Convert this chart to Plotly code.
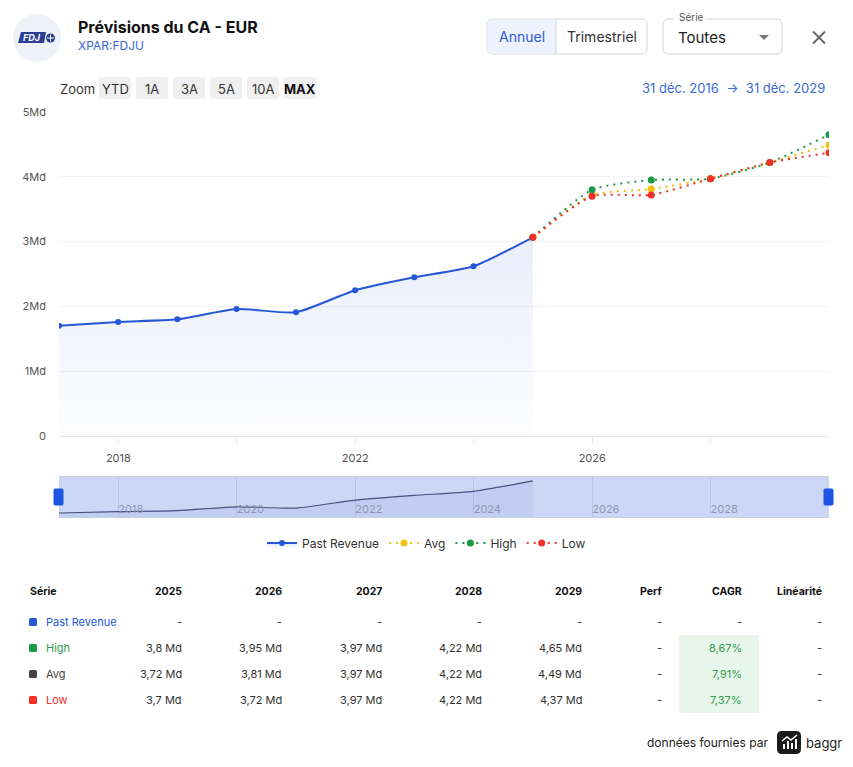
import plotly.graph_objects as go

W, H = 853, 767

# ---------------- data ----------------
past_dates = ["2016-12-31", "2017-12-31", "2018-12-31", "2019-12-31", "2020-12-31",
              "2021-12-31", "2022-12-31", "2023-12-31", "2024-12-31"]
past_revenue = [1.70, 1.76, 1.80, 1.96, 1.91, 2.25, 2.45, 2.62, 3.066]  # Md EUR

fc_dates = ["2024-12-31", "2025-12-31", "2026-12-31", "2027-12-31", "2028-12-31", "2029-12-31"]
table_years = ["2025", "2026", "2027", "2028", "2029"]
high_fc = [3.80, 3.95, 3.97, 4.22, 4.65]
avg_fc = [3.72, 3.81, 3.97, 4.22, 4.49]
low_fc = [3.70, 3.72, 3.97, 4.22, 4.37]
cagr_high, cagr_avg, cagr_low = 8.67, 7.91, 7.37

y_tick_vals = [0, 1, 2, 3, 4, 5]
y_tick_text = ["0", "1Md", "2Md", "3Md", "4Md", "5Md"]
x_tick_vals = ["2018-01-01", "2020-01-01", "2022-01-01", "2024-01-01", "2026-01-01", "2028-01-01"]
x_tick_text = ["2018", "", "2022", "", "2026", ""]
nav_tick_text = ["2018", "2020", "2022", "2024", "2026", "2028"]

C_PAST = "#2457d6"
C_AVG = "#f5c10e"
C_HIGH = "#1a9a45"
C_LOW = "#f0322b"
FONT = "Inter"


def X(x):
    return x / W


def Y(y):
    return 1 - y / H


fig = go.Figure()

# ---------------- main chart ----------------
fig.add_trace(go.Scatter(
    x=past_dates, y=[v * 1e9 for v in past_revenue], name="Past Revenue",
    mode="lines+markers", line=dict(color=C_PAST, width=2, shape="spline", smoothing=0.6),
    marker=dict(size=6, color=C_PAST),
    fill="tozeroy",
    fillgradient=dict(type="vertical", start=0, stop=4e9,
                      colorscale=[[0, "rgba(36,87,214,0.01)"], [1, "rgba(36,87,214,0.13)"]]),
    hoverinfo="skip"))

last = past_revenue[-1]
for name, vals, col in [("Avg", avg_fc, C_AVG), ("High", high_fc, C_HIGH), ("Low", low_fc, C_LOW)]:
    fig.add_trace(go.Scatter(
        x=fc_dates, y=[v * 1e9 for v in [last] + vals], name=name,
        mode="lines+markers",
        line=dict(color=col, width=2, dash="2px,5px", shape="spline", smoothing=0.6),
        marker=dict(size=7, color=col), hoverinfo="skip"))

# ---------------- navigator ----------------
fig.add_trace(go.Scatter(
    x=past_dates, y=[v * 1e9 for v in past_revenue], xaxis="x2", yaxis="y2",
    mode="lines", line=dict(color="#46527e", width=1.2, shape="spline", smoothing=0.6),
    fill="tozeroy", fillcolor="rgba(51,92,200,0.07)", showlegend=False, hoverinfo="skip"))

fig.update_layout(
    width=W, height=H, autosize=False,
    margin=dict(l=0, r=0, t=0, b=0, pad=0),
    paper_bgcolor="white", plot_bgcolor="rgba(0,0,0,0)",
    font=dict(family=FONT, color="#333"),
    showlegend=True,
    legend=dict(orientation="h", x=0.5, xanchor="center", y=Y(543), yanchor="middle",
                font=dict(size=12, color="#333", family=FONT), itemwidth=30,
                bgcolor="rgba(0,0,0,0)"),
    xaxis=dict(domain=[X(59), X(829)], anchor="y", type="date", automargin=False,
               range=["2016-12-31", "2029-12-31"],
               tickvals=x_tick_vals, ticktext=x_tick_text,
               ticks="outside", ticklen=6, tickcolor="#dfe3ea", ticklabelstandoff=6,
               showline=True, linecolor="#dfe3ea", linewidth=1,
               showgrid=False, zeroline=False,
               tickfont=dict(size=11, color="#555", family=FONT)),
    yaxis=dict(domain=[Y(436), Y(112)], anchor="x", range=[0, 5e9], automargin=False,
               tickvals=[v * 1e9 for v in y_tick_vals], ticktext=y_tick_text,
               showgrid=True, gridcolor="#f2f2f4", zeroline=False, showline=False,
               ticks="", ticklabelstandoff=12,
               tickfont=dict(size=11, color="#555", family=FONT)),
    xaxis2=dict(domain=[X(59), X(829)], anchor="y2", type="date", automargin=False,
                range=["2016-12-31", "2029-12-31"],
                tickvals=x_tick_vals, ticktext=nav_tick_text,
                ticklabelposition="inside right", ticks="", ticklabelstandoff=-4,
                showgrid=True, gridcolor="#b8c4e8", gridwidth=1,
                showline=False, zeroline=False,
                tickfont=dict(size=11, color="#8e98b4", family=FONT)),
    yaxis2=dict(domain=[Y(517), Y(477)], anchor="x2", range=[1.53e9, 3.23e9],
                visible=False, showgrid=False, automargin=False),
)

shapes = []
annotations = []


def txt(x, y, s, size=12, color="#333", anchor="left", bold=False, bg=None, family=FONT):
    d = dict(x=X(x), y=Y(y), xref="paper", yref="paper", text=("<b>%s</b>" % s) if bold else s,
             showarrow=False, xanchor=anchor, yanchor="middle",
             font=dict(size=size, color=color, family=family), borderpad=0)
    if bg:
        d["bgcolor"] = bg
    annotations.append(d)


def rect(x0, y0, x1, y1, fill=None, line=None, lw=1, layer="above"):
    shapes.append(dict(type="rect", xref="paper", yref="paper",
                       x0=X(x0), x1=X(x1), y0=Y(y1), y1=Y(y0),
                       fillcolor=fill if fill else "rgba(0,0,0,0)",
                       line=dict(color=line if line else "rgba(0,0,0,0)", width=lw if line else 0),
                       layer=layer))


def rrect(x0, y0, x1, y1, r, fill=None, line=None, lw=1, layer="above"):
    p = (f"M {X(x0 + r)},{Y(y0)} L {X(x1 - r)},{Y(y0)} Q {X(x1)},{Y(y0)} {X(x1)},{Y(y0 + r)} "
         f"L {X(x1)},{Y(y1 - r)} Q {X(x1)},{Y(y1)} {X(x1 - r)},{Y(y1)} "
         f"L {X(x0 + r)},{Y(y1)} Q {X(x0)},{Y(y1)} {X(x0)},{Y(y1 - r)} "
         f"L {X(x0)},{Y(y0 + r)} Q {X(x0)},{Y(y0)} {X(x0 + r)},{Y(y0)} Z")
    shapes.append(dict(type="path", xref="paper", yref="paper", path=p,
                       fillcolor=fill if fill else "rgba(0,0,0,0)",
                       line=dict(color=line if line else "rgba(0,0,0,0)", width=lw if line else 0),
                       layer=layer))


def path(pts, fill=None, line=None, lw=1, close=True):
    p = "M " + " L ".join(f"{X(a)},{Y(b)}" for a, b in pts) + (" Z" if close else "")
    shapes.append(dict(type="path", xref="paper", yref="paper", path=p,
                       fillcolor=fill if fill else "rgba(0,0,0,0)",
                       line=dict(color=line if line else "rgba(0,0,0,0)", width=lw if line else 0)))


def seg(x0, y0, x1, y1, color, w=1):
    shapes.append(dict(type="line", xref="paper", yref="paper",
                       x0=X(x0), y0=Y(y0), x1=X(x1), y1=Y(y1),
                       line=dict(color=color, width=w)))


# ---------------- header ----------------
shapes.append(dict(type="circle", xref="paper", yref="paper",
                   x0=X(13), x1=X(61), y0=Y(62), y1=Y(14),
                   fillcolor="#eef1f7", line=dict(width=0)))
path([(21, 32), (46, 32), (44, 43), (18, 43)], fill="#2b3e96")
txt(31.5, 37.6, "<i>FDJ</i>", size=9, color="white", anchor="center", bold=True)
shapes.append(dict(type="circle", xref="paper", yref="paper",
                   x0=X(46), x1=X(55), y0=Y(42.5), y1=Y(33.5),
                   fillcolor="#2b3e96", line=dict(width=0)))
seg(50.5, 34.5, 50.5, 41.5, "white", 1)
seg(47, 38, 54, 38, "white", 1)

txt(77, 27, "Prévisions du CA - EUR", size=16, color="#111", bold=True)
txt(77, 46, "XPAR:FDJU", size=12, color="#3a66d4")

# Annuel / Trimestriel buttons
rrect(487, 19, 647, 54, 6, fill="white", line="#d3d7df")
p = (f"M {X(493)},{Y(19.5)} L {X(556)},{Y(19.5)} L {X(556)},{Y(53.5)} L {X(493)},{Y(53.5)} "
     f"Q {X(487.5)},{Y(53.5)} {X(487.5)},{Y(48)} L {X(487.5)},{Y(25)} Q {X(487.5)},{Y(19.5)} {X(493)},{Y(19.5)} Z")
shapes.append(dict(type="path", xref="paper", yref="paper", path=p,
                   fillcolor="#edf2fc", line=dict(width=0)))
seg(556, 19, 556, 54, "#d3d7df", 1)
txt(521.5, 36.5, "Annuel", size=14, color="#2d5bd3", anchor="center")
txt(601.5, 36.5, "Trimestriel", size=14, color="#333", anchor="center")

# Série select
rrect(663, 19, 782, 54, 6, fill="white", line="#cfd2d8")
rect(674, 14, 705, 23, fill="white")
txt(677.5, 17.5, "Série", size=10, color="#555")
txt(677, 37, "Toutes", size=15, color="#222")
path([(759, 35), (769, 35), (764, 40)], fill="#777")

# close X
seg(813, 31.5, 825, 43.5, "#666", 2)
seg(825, 31.5, 813, 43.5, "#666", 2)

# zoom row
txt(59, 88.5, "Zoom", size=13, color="#333")
zoom_btns = [("YTD", 99, 131), ("1A", 136, 168), ("3A", 173, 205),
             ("5A", 210, 242), ("10A", 247, 279), ("MAX", 284, 316)]
for lab, a, b in zoom_btns:
    rrect(a, 77, b, 99, 2, fill="#efefef")
    txt((a + b) / 2, 88.5, lab, size=13, color="#111" if lab == "MAX" else "#333",
        anchor="center", bold=(lab == "MAX"))

txt(826, 88, "31 déc. 2016  \u2192  31 déc. 2029", size=13, color="#3b6ad8", anchor="right")

# ---------------- navigator decorations ----------------
rect(59, 477, 829, 517, fill="#ccd7f6", layer="below")
seg(59, 476.5, 829, 476.5, "#c9cfdc", 1)
seg(59, 517.5, 829, 517.5, "#c9cfdc", 1)
rrect(54, 489, 63, 505, 1, fill="#1f55e0", line="#1f55e0")
rrect(824, 489, 833, 505, 1, fill="#1f55e0", line="#1f55e0")

# ---------------- table ----------------
col_right = [183, 283, 383, 483, 583]
perf_x, cagr_x, lin_x = 663, 743, 823
hy = 591
txt(29, hy, "Série", size=10.5, color="#111", bold=True)
for yr, xr in zip(table_years, col_right):
    txt(xr, hy, yr, size=10.5, color="#111", anchor="right", bold=True)
txt(perf_x, hy, "Perf", size=10.5, color="#111", anchor="right", bold=True)
txt(cagr_x, hy, "CAGR", size=10.5, color="#111", anchor="right", bold=True)
txt(lin_x, hy, "Linéarité", size=10.5, color="#111", anchor="right", bold=True)

rect(679, 635, 759, 713, fill="#e8f5ea", layer="below")


def fmt(v):
    s = ("%.2f" % v).rstrip("0").rstrip(".")
    return s.replace(".", ",") + " Md"


def fmtp(v):
    return ("%.2f" % v).replace(".", ",") + "%"


rows = [
    ("Past Revenue", C_PAST, C_PAST, None, None),
    ("High", C_HIGH, "#2e9e4e", high_fc, cagr_high),
    ("Avg", "#444", "#444", avg_fc, cagr_avg),
    ("Low", C_LOW, C_LOW, low_fc, cagr_low),
]
row_y = [622, 648, 674, 700]
for (name, sq, tc, vals, cg), ry in zip(rows, row_y):
    rrect(29, ry - 4, 37, ry + 4, 1.5, fill=sq)
    txt(45, ry, name, size=11, color=tc)
    for i, xr in enumerate(col_right):
        txt(xr, ry, fmt(vals[i]) if vals else "-", size=11, color="#333", anchor="right")
    txt(perf_x, ry, "-", size=11, color="#333", anchor="right")
    txt(cagr_x, ry, fmtp(cg) if cg is not None else "-", size=11,
        color="#2e9e4e" if cg is not None else "#333", anchor="right")
    txt(lin_x, ry, "-", size=11, color="#333", anchor="right")

# ---------------- footer ----------------
txt(769, 742.5, "données fournies par", size=12, color="#222", anchor="right")
rrect(777, 731, 801, 754, 5, fill="#1b1b1b")
rect(783, 744, 785, 749, fill="white")
rect(787, 741, 789, 749, fill="white")
rect(791, 743, 793, 749, fill="white")
rect(795, 739, 797, 749, fill="white")
path([(782, 741), (787, 737), (791, 740), (797, 735)], line="white", lw=1.5, close=False)
txt(805, 742.5, "baggr", size=13, color="#222")

fig.update_layout(shapes=shapes, annotations=annotations)

fig.write_html("out.html")
